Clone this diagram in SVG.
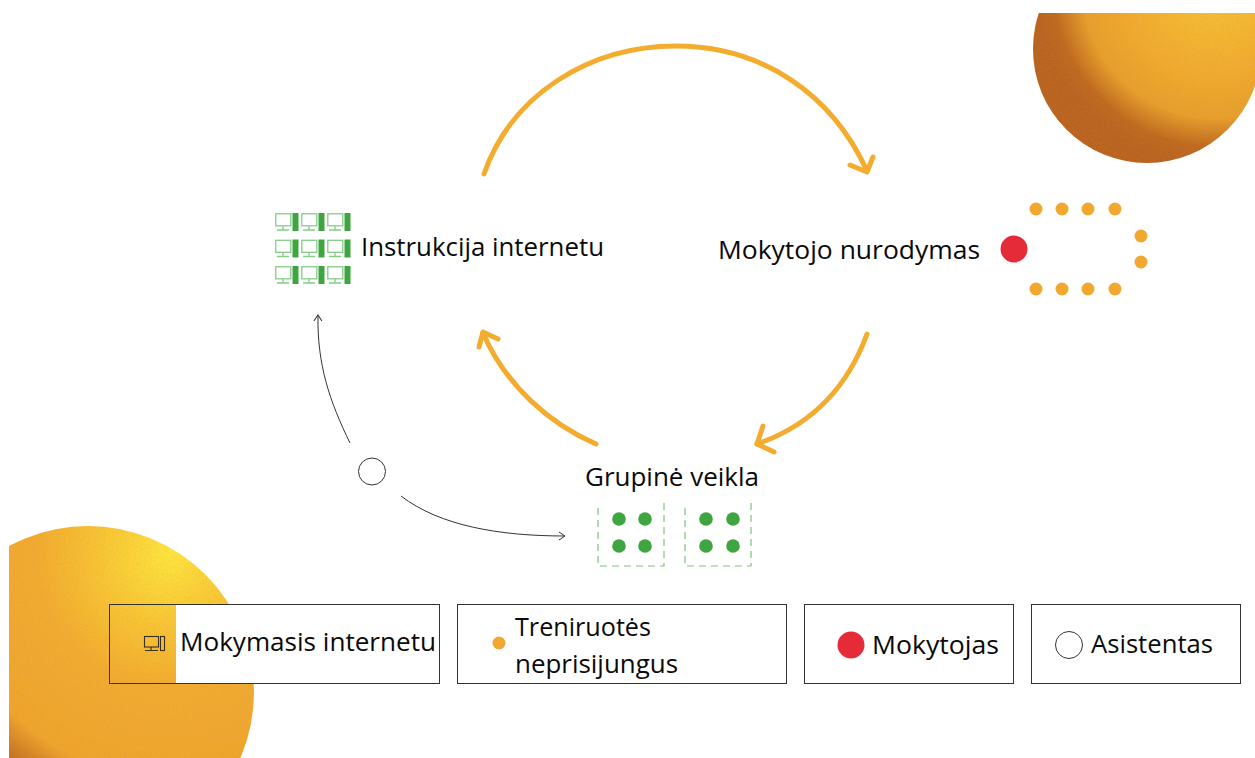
<svg xmlns="http://www.w3.org/2000/svg" width="1255" height="758" viewBox="0 0 1255 758">
<style>
text{font-family:"Open Sans","Noto Sans","Liberation Sans",sans-serif;font-size:25px;fill:#0a0a0a}
.arc{fill:none;stroke:#F4AC2E;stroke-width:5;stroke-linecap:round;stroke-linejoin:round}
.thin{fill:none;stroke:#333;stroke-width:1}
.box{fill:none;stroke:#333;stroke-width:1}
.o{fill:#F2A82E}.g{fill:#3FA540}
.dash{fill:none;stroke:#7CC47E;stroke-width:1.200;stroke-dasharray:7 5}
.mon{fill:none;stroke:#86CC88;stroke-width:1.300}
</style>
<defs>
<radialGradient id="tr" gradientUnits="userSpaceOnUse" cx="1215" cy="-15" r="180">
<stop offset="0" stop-color="#F8C438"/><stop offset=".5" stop-color="#F2AB30"/><stop offset=".74" stop-color="#E89F2D"/><stop offset=".9" stop-color="#BF6822"/><stop offset="1" stop-color="#BA6220"/>
</radialGradient>
<radialGradient id="bl" gradientUnits="userSpaceOnUse" cx="170" cy="555" r="265">
<stop offset="0" stop-color="#FFE63F"/><stop offset=".25" stop-color="#F9C736"/><stop offset=".5" stop-color="#F3AC30"/><stop offset=".84" stop-color="#F0A52F"/><stop offset="1" stop-color="#BB6620"/>
</radialGradient>
<filter id="grain" x="0" y="0" width="100%" height="100%">
<feTurbulence type="fractalNoise" baseFrequency="0.9" numOctaves="2" seed="4" result="n"/>
<feColorMatrix in="n" type="matrix" values="0 0 0 0 .5  0 0 0 0 .28  0 0 0 0 .05  0 0 0 .5 -.2" result="s"/>
<feComposite in="s" in2="SourceAlpha" operator="in" result="c"/>
<feMerge><feMergeNode in="SourceGraphic"/><feMergeNode in="c"/></feMerge>
</filter>
<clipPath id="ctr"><rect x="1000" y="13" width="255" height="170"/></clipPath>
<clipPath id="cbl"><rect x="9" y="500" width="260" height="258"/></clipPath>
<g id="pc"><rect class="mon" x="0.800" y="0.800" width="15" height="12"/><path class="mon" d="M8 13v3.500M2 17h12"/><rect class="g" x="17.500" y="0" width="6" height="18"/></g>
<marker id="thinhead" markerWidth="10" markerHeight="10" refX="8" refY="5" orient="auto" markerUnits="userSpaceOnUse"><path d="M2 1L8 5L2 9" fill="none" stroke="#333" stroke-width="1"/></marker>
</defs>

<g id="background">
<g clip-path="url(#ctr)"><circle cx="1147" cy="49" r="114" fill="url(#tr)" filter="url(#grain)"/></g>
<g clip-path="url(#cbl)"><circle cx="88" cy="692" r="166" fill="url(#bl)" filter="url(#grain)"/></g>
</g>

<g id="connectors">
<path class="arc" d="M484 174C512 94 590 46 676 46C762 46 832 94 867 171"/>
<path class="arc" d="M850 165L867 172L873 157"/>
<path class="arc" d="M867 334C848 386 812 425 757 444"/>
<path class="arc" d="M763 426L757 444L774 452"/>
<path class="arc" d="M596 444C550 424 506 386 483 333"/>
<path class="arc" d="M479 347L483 332L498 339"/>
<path class="thin" d="M350 443C330 402 317 365 318 315" marker-end="url(#thinhead)"/>
<path class="thin" d="M401 496C440 526 500 536 565 536" marker-end="url(#thinhead)"/>
</g>

<g id="instrukcija">
<use href="#pc" x="275" y="213"/><use href="#pc" x="301" y="213"/><use href="#pc" x="327" y="213"/>
<use href="#pc" x="275" y="239.500"/><use href="#pc" x="301" y="239.500"/><use href="#pc" x="327" y="239.500"/>
<use href="#pc" x="275" y="266"/><use href="#pc" x="301" y="266"/><use href="#pc" x="327" y="266"/>
<text x="361" y="256" textLength="243" lengthAdjust="spacingAndGlyphs">Instrukcija internetu</text>
</g>

<g id="mokytojo">
<text x="718" y="259" textLength="262" lengthAdjust="spacingAndGlyphs">Mokytojo nurodymas</text>
<circle cx="1014" cy="249" r="13.500" fill="#E62B38"/>
<circle class="o" cx="1036" cy="209" r="6.500"/><circle class="o" cx="1062" cy="209" r="6.500"/><circle class="o" cx="1088" cy="209" r="6.500"/><circle class="o" cx="1115" cy="209" r="6.500"/>
<circle class="o" cx="1141" cy="236" r="6.500"/><circle class="o" cx="1141" cy="262" r="6.500"/>
<circle class="o" cx="1036" cy="289" r="6.500"/><circle class="o" cx="1062" cy="289" r="6.500"/><circle class="o" cx="1088" cy="289" r="6.500"/><circle class="o" cx="1115" cy="289" r="6.500"/>
</g>

<g id="grupine">
<text x="585" y="486" textLength="174" lengthAdjust="spacingAndGlyphs">Grupinė veikla</text>
<path class="dash" d="M598 508V566H664V502"/>
<path class="dash" d="M685 508V566H751V502"/>
<circle class="g" cx="619" cy="519" r="6.800"/><circle class="g" cx="645" cy="519" r="6.800"/><circle class="g" cx="619" cy="546" r="6.800"/><circle class="g" cx="645" cy="546" r="6.800"/>
<circle class="g" cx="706" cy="519" r="6.800"/><circle class="g" cx="733" cy="519" r="6.800"/><circle class="g" cx="706" cy="546" r="6.800"/><circle class="g" cx="733" cy="546" r="6.800"/>
</g>

<g id="asistentas-node"><circle cx="372" cy="471.500" r="13.500" fill="#fff" stroke="#333" stroke-width="1"/></g>

<g id="legend-mokymasis">
<rect x="176" y="604" width="263" height="79" fill="#fff"/>
<rect class="box" x="109.500" y="604.500" width="330" height="79"/>
<g fill="none" stroke="#3a3020" stroke-width="1.100"><rect x="144.500" y="636.500" width="14" height="10.500"/><path d="M151 647v3M145 650.500h13"/><rect x="160.500" y="636.500" width="4" height="14"/></g>
<text x="180" y="651" textLength="256" lengthAdjust="spacingAndGlyphs">Mokymasis internetu</text>
</g>

<g id="legend-treniruotes">
<rect class="box" x="457.500" y="604.500" width="329" height="79"/>
<circle class="o" cx="499" cy="643" r="6.500"/>
<text x="515" y="636" textLength="136" lengthAdjust="spacingAndGlyphs">Treniruotės</text>
<text x="515" y="673" textLength="163" lengthAdjust="spacingAndGlyphs">neprisijungus</text>
</g>

<g id="legend-mokytojas">
<rect class="box" x="804.500" y="604.500" width="209" height="79"/>
<circle cx="851" cy="645" r="13.500" fill="#E62B38"/>
<text x="872" y="654" textLength="127" lengthAdjust="spacingAndGlyphs">Mokytojas</text>
</g>

<g id="legend-asistentas">
<rect class="box" x="1031.500" y="604.500" width="209" height="79"/>
<circle cx="1069" cy="645" r="13.500" fill="#fff" stroke="#333" stroke-width="1"/>
<text x="1091" y="653" textLength="122" lengthAdjust="spacingAndGlyphs">Asistentas</text>
</g>
</svg>
